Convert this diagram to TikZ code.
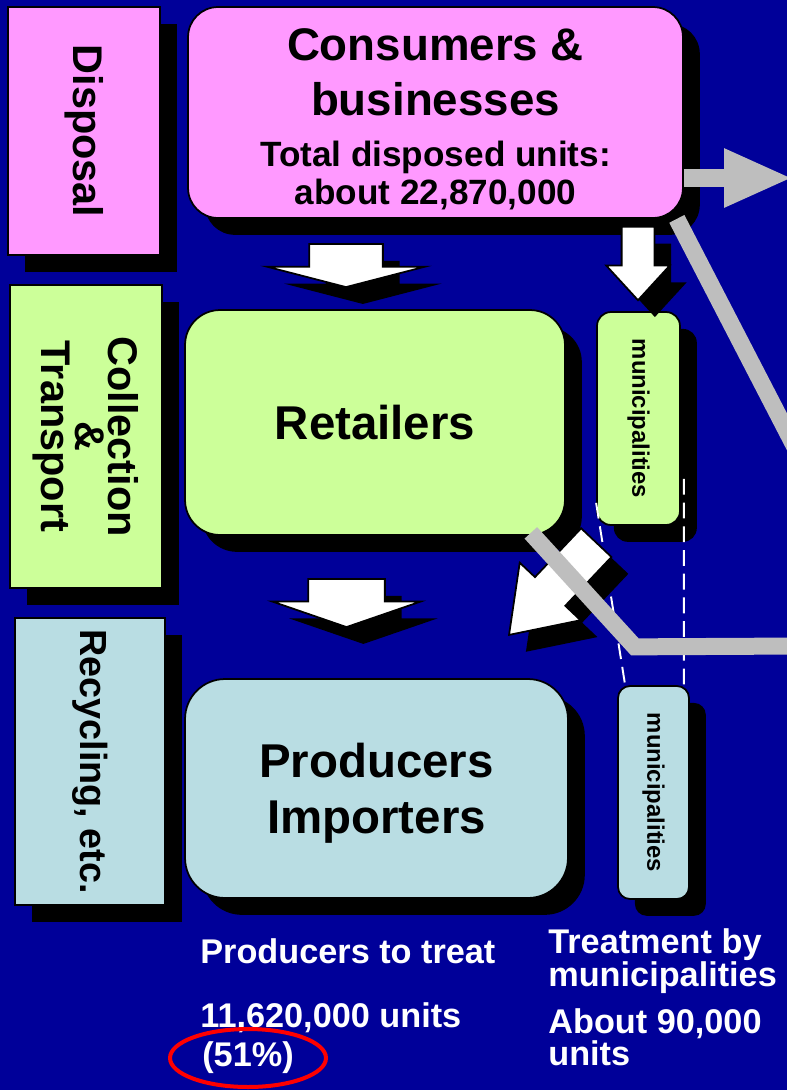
\documentclass[tikz,border=0pt]{standalone}
\usepackage{fontspec}
\setmainfont{Liberation Sans}
\usetikzlibrary{calc, shapes, arrows, arrows.meta}
\definecolor{bgblue}{HTML}{000099}
\definecolor{pinkfill}{HTML}{FF99FF}
\definecolor{greenfill}{HTML}{CCFF99}
\definecolor{bluefill}{HTML}{B9DDE3}
\definecolor{flowgray}{HTML}{BEBEBE}

\begin{document}
\begin{tikzpicture}[x=0.02cm,y=-0.02cm]
\tikzstyle{shadowed} = [preaction={fill=black, transform canvas={xshift=9.6pt,yshift=-9.6pt}}]
\tikzstyle{stage}=[rectangle, draw=black, line width=1pt, shadowed, rotate=-90, inner sep=0pt, align=center, font=\fontsize{23.6}{19}\selectfont\bfseries]
\tikzstyle{actor}=[rectangle, rounded corners=0.7cm, draw=black, line width=1pt, shadowed, inner sep=4pt, align=center, font=\fontsize{27}{32.3}\selectfont\bfseries]
\tikzstyle{muni}=[rectangle, rounded corners=0.28cm, draw=black, line width=1pt, shadowed, rotate=-90, inner sep=0pt, minimum width=4.26cm, font=\fontsize{13.6}{16}\selectfont\bfseries]
\tikzstyle{fat}=[single arrow, fill=white, draw=black, line width=1pt, shadowed, inner sep=0pt, minimum width=0pt, anchor=tip]
\tikzstyle{flow}=[draw=flowgray, line width=0.34cm]
\tikzstyle{dashlink}=[draw=white, line width=1.1pt, dash pattern=on 9pt off 4.5pt]
\tikzstyle{note}=[text=white, inner sep=0pt, align=left, font=\fontsize{19.5}{15.3}\selectfont\bfseries]

% background
\fill[bgblue] (0,0) rectangle (787,1090);
\useasboundingbox (0,0) rectangle (787,1090);

% stages
\node[stage, fill=pinkfill, minimum width=4.96cm, minimum height=3.04cm] (disp) at (84,131) {Disposal};
\node[stage, fill=greenfill, minimum width=6.06cm, minimum height=3.04cm] (coll) at (86,436.5) {Collection\\\&\\Transport};
\node[stage, fill=bluefill, minimum width=5.74cm, minimum height=3cm, font=\fontsize{21.5}{20}\selectfont\bfseries] (recy) at (90,761.5) {Recycling, etc.};

% actors
\node[actor, fill=pinkfill, rounded corners=0.6cm, minimum width=9.9cm, minimum height=4.22cm, font=\fontsize{26}{31.2}\selectfont\bfseries] (cons) at (435.5,112.5) {\rule{0pt}{25.8pt}Consumers \&\\businesses\\[-1.7pt]{\fontsize{20}{21.5}\selectfont Total disposed units:}\\[-9.7pt]{\fontsize{20}{21.5}\selectfont about 22,870,000}};
\node[actor, fill=greenfill, minimum width=7.6cm, minimum height=4.5cm] (ret) at (375,422.5) {Retailers};
\node[actor, fill=bluefill, rounded corners=0.8cm, minimum width=7.66cm, minimum height=4.38cm] (prod) at (376.5,788.5) {\rule{0pt}{25pt}Producers\\Importers};

\node[muni, fill=greenfill, minimum height=1.66cm] (muniA) at (638.5,418.5) {municipalities};
\node[muni, fill=bluefill, minimum height=1.42cm, rounded corners=0.24cm] (muniB) at (653.5,792.5) {municipalities};

% dashed links between the municipality boxes
\draw[dashlink] ($(muniA.south east)+(0,-23)$) -- ($(muniB.south west)+(8,0)$);
\draw[dashlink] ($(muniA.north east)+(3,-47)$) -- ($(muniB.north west)+(-6,0)$);

% block arrows
\node[fat, rotate=-90, minimum height=0.86cm, inner ysep=0.72cm, single arrow head extend=0.84cm, single arrow tip angle=151] (a1) at (346,288) {};
\node[fat, rotate=-90, minimum height=0.96cm, inner ysep=0.75cm, single arrow head extend=0.72cm, single arrow tip angle=142] (a2) at (346.5,628) {};
\node[fat, rotate=-90, minimum height=1.47cm, inner ysep=0.31cm, single arrow head extend=0.31cm, single arrow tip angle=85] (a3) at (638,301.5) {};
\node[fat, rotate=-133.4, minimum height=2.54cm, inner ysep=0.4cm, single arrow head extend=0.42cm, single arrow tip angle=70] (a4) at (508,636) {};

% gray flows
\coordinate (outA) at (793,178);
\coordinate (outB) at (800,457);
\coordinate (outC) at (800,646);
\draw[flow, line width=0.36cm, -{Triangle[length=1.38cm,width=1.08cm]}] (cons.east |- outA) -- (outA);
\draw[flow] ($(cons.south east)+(-7,0)$) -- (outB);
\draw[flow] ($(ret.south east)+(-35,-3)$) -- ++(104,114) -- (outC);

% totals
\node[note, anchor=base west] (tprod) at (200,963) {Producers to treat};
\node[note, anchor=base west] (nprod) at (200,1027) {11,620,000 units};
\node[note, ellipse, draw=red, line width=0.08cm, minimum width=3.12cm, minimum height=1.16cm] (pct) at (248,1058) {(51\%)};
\node[note, anchor=north west] (tmuni) at (548,928) {Treatment by\\municipalities};
\node[note, anchor=north west] (nmuni) at (548,1008) {About 90,000\\units};
\end{tikzpicture}
\end{document}
